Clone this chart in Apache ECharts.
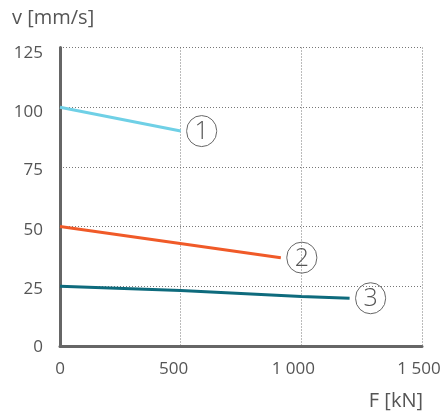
<!DOCTYPE html>
<html>
<head>
<meta charset="utf-8">
<script src="https://cdn.jsdelivr.net/npm/echarts@6/dist/echarts.min.js"></script>
<style>
html,body{margin:0;padding:0;background:#fff;}
#chart{width:446px;height:414px;}
</style>
</head>
<body>
<div id="chart"></div>
<script>
// curve data: [F kN, v mm/s]
const curve1 = [[0, 100], [500, 90]]
const curve2 = [[0, 50], [915, 37]]
const curve3 = [[0, 25], [500, 23.2], [1000, 20.7], [1200, 20]]
const curveNames = ['1', '2', '3']
const curveColors = ['#6fd0e6', '#f05a28', '#0e6b7d']
const xTicks = [0, 500, 1000, 1500]
const xTickLabels = ['0', '500', '1 000', '1 500']
const yTicks = [0, 25, 50, 75, 100, 125]

const textColor = '#555'
const font = 'Open Sans'

let chart = echarts.init(document.getElementById('chart'))

function makeSeries(data, idx){
    return {
        type: 'line',
        data: data,
        showSymbol: false,
        symbol: 'none',
        smooth: false,
        lineStyle: { color: curveColors[idx], width: 3 },
        itemStyle: { color: curveColors[idx] },
        endLabel: {
            show: true,
            distance: 6,
            formatter: '{c|' + curveNames[idx] + '}',
            rich: {
                c: {
                    width: 30,
                    height: 29,
                    lineHeight: 29,
                    align: 'center',
                    verticalAlign: 'middle',
                    borderColor: '#666',
                    borderWidth: 1,
                    borderRadius: 16,
                    fontSize: 25,
                    fontFamily: font,
                    fontWeight: 300,
                    color: textColor,
                    padding: [2, 0, 0, 0]
                }
            }
        }
    }
}

// small per-label vertical nudges for y tick labels
const yLabelRich = {}
const yNudge = [3, 6, 7, 7, 9, 11]
yTicks.forEach(function(t, i){
    yLabelRich['y' + i] = { fontSize: 17, fontFamily: font, color: textColor, padding: [yNudge[i], 0, 0, 0] }
})

let options = {
    animation: false,
    textStyle: { fontFamily: font },
    grid: { left: 60, right: 24, top: 47.5, bottom: 68, containLabel: false },
    graphic: [
        { type: 'text', left: 12, top: 8, style: { text: 'v [mm/s]', font: '20px "Open Sans"', fill: textColor } },
        { type: 'text', right: 23, top: 391, style: { text: 'F [kN]', font: '20px "Open Sans"', fill: textColor } }
    ],
    xAxis: {
        type: 'value',
        min: 0,
        max: 1500,
        interval: 500,
        axisLine: { show: true, onZero: false, lineStyle: { color: '#666', width: 3 } },
        axisTick: { show: false },
        axisLabel: {
            margin: 15,
            formatter: function(v){
                let i = xTicks.indexOf(v)
                let key = ['a', 'b', 'c', 'd'][i]
                return '{' + key + '|' + xTickLabels[i] + '}'
            },
            rich: {
                a: { fontSize: 17, fontFamily: font, color: textColor },
                b: { fontSize: 17, fontFamily: font, color: textColor, padding: [0, 14, 0, 0] },
                c: { fontSize: 17, fontFamily: font, color: textColor, padding: [0, 16, 0, 0] },
                d: { fontSize: 17, fontFamily: font, color: textColor, padding: [0, 6, 0, 0] }
            }
        },
        splitLine: { show: true, lineStyle: { color: '#777', type: [1, 2], width: 1 } }
    },
    yAxis: {
        type: 'value',
        min: 0,
        max: 125,
        interval: 25,
        axisLine: { show: true, onZero: false, lineStyle: { color: '#666', width: 3 } },
        axisTick: { show: false },
        axisLabel: {
            margin: 17,
            formatter: function(v){
                return '{y' + yTicks.indexOf(v) + '|' + v + '}'
            },
            rich: yLabelRich
        },
        splitLine: { show: true, lineStyle: { color: '#777', type: [1, 2], width: 1 } }
    },
    series: [
        makeSeries(curve1, 0),
        makeSeries(curve2, 1),
        makeSeries(curve3, 2)
    ]
}

chart.setOption(options)
</script>
</body>
</html>
